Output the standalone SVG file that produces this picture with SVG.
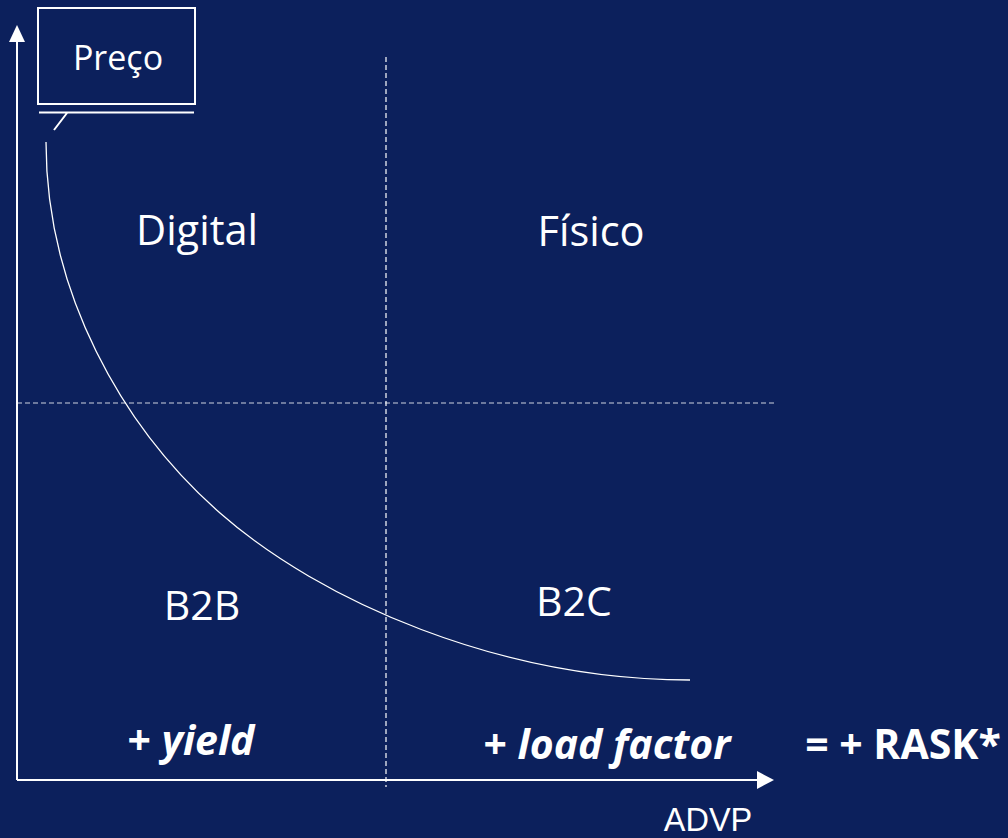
<svg xmlns="http://www.w3.org/2000/svg" width="1008" height="838" viewBox="0 0 1008 838">
<style>
text{font-family:"Open Sans","Liberation Sans",sans-serif;fill:#fff;text-anchor:middle}
.l{fill:none;stroke:#fff;stroke-width:1.3}
.a{fill:none;stroke:#fff;stroke-width:2}
.d{fill:none;stroke:#fff;stroke-width:1.2;stroke-dasharray:5 3}
.b{font-weight:700;font-size:41px}
</style>
<rect width="1008" height="838" fill="#0c205c"/>
<g id="connectors">
<path class="a" d="M17 780V35"/><path d="M17 25l-8 17h16z" fill="#fff"/>
<path class="a" d="M17 780H760"/><path d="M774 780l-17-9v18z" fill="#fff"/>
<path class="d" d="M386 57V787"/><path class="d" opacity=".8" d="M17 403H774"/>
<path class="l" d="M46 142C46 292 122 427 220 513C320 601 500 680 690 680"/>
</g>
<g id="preco"><rect x="38" y="8" width="157" height="96" fill="none" stroke="#fff" stroke-width="2"/><path class="a" d="M39 112.500H194M67 113L54 130"/><text x="118" y="70" font-size="34">Preço</text></g>
<g id="digital"><text x="197" y="245" font-size="41.500">Digital</text></g>
<g id="fisico"><text x="591" y="246" font-size="41.500">Físico</text></g>
<g id="b2b"><text x="202" y="620" font-size="41">B2B</text></g>
<g id="b2c"><text x="574" y="616" font-size="41">B2C</text></g>
<g id="yield"><text x="191" y="755" class="b">+ <tspan font-style="italic">yield</tspan></text></g>
<g id="load"><text x="607" y="759" class="b">+ <tspan font-style="italic">load factor</tspan></text></g>
<g id="rask"><text x="903" y="759" class="b">= + RASK*</text></g>
<g id="advp"><text x="708" y="831" font-size="32.500" style="font-family:'Liberation Sans',sans-serif">ADVP</text></g>
</svg>
